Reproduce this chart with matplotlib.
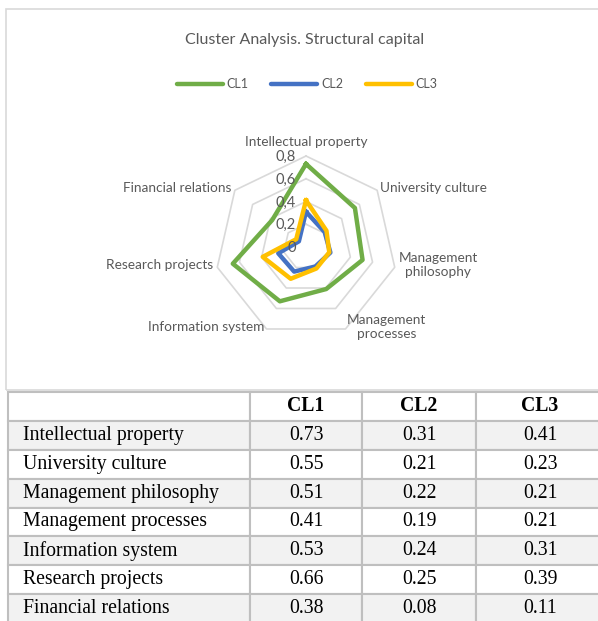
import numpy as np
import matplotlib.pyplot as plt
from matplotlib.lines import Line2D
from matplotlib.patches import Rectangle
from matplotlib.transforms import offset_copy

categories = ["Intellectual property", "University culture", "Management philosophy",
              "Management processes", "Information system", "Research projects",
              "Financial relations"]
axis_labels = ["Intellectual property", "University culture", "Management\nphilosophy",
               "Management\nprocesses", "Information system", "Research projects",
               "Financial relations"]
cl1 = [0.73, 0.55, 0.51, 0.41, 0.53, 0.66, 0.38]
cl2 = [0.31, 0.21, 0.22, 0.19, 0.24, 0.25, 0.08]
cl3 = [0.41, 0.23, 0.21, 0.21, 0.31, 0.39, 0.11]
series = ["CL1", "CL2", "CL3"]
colors = ["#70ad47", "#4472c4", "#ffc000"]
rings = [0.2, 0.4, 0.6, 0.8]
ring_labels = ["0", "0,2", "0,4", "0,6", "0,8"]

W, H = 598, 621
GRAY = "#595959"
plt.rcParams["font.family"] = ["Lato", "DejaVu Sans"]

fig = plt.figure(figsize=(W / 100, H / 100), dpi=100)

# chart area frame (behind everything)
fig.add_artist(Rectangle((6 / W, 1 - 390 / H), 600 / W, 381 / H, transform=fig.transFigure,
                         facecolor="none", edgecolor="#d9d9d9", linewidth=1.2, zorder=-5))

fig.text(305 / W, 1 - 40 / H, "Cluster Analysis. Structural capital", ha="center",
         va="center", fontsize=11.5, color=GRAY)

# radar
cx, cy, R = 306, 247, 91
ax = fig.add_axes([(cx - R) / W, 1 - (cy + R) / H, 2 * R / W, 2 * R / H], projection="polar")
ax.set_theta_zero_location("N")
ax.set_theta_direction(-1)
ax.set_ylim(0, 0.8)
ax.grid(False)
ax.spines["polar"].set_visible(False)
ax.set_xticks([])
ax.set_yticks([])
ax.patch.set_alpha(0)

n = len(categories)
ang = np.linspace(0, 2 * np.pi, n, endpoint=False)
ang_c = np.append(ang, ang[0])

for r in rings:
    ax.plot(ang_c, [r] * (n + 1), color="#d9d9d9", lw=1.2, clip_on=False, zorder=1)

for vals, c in zip([cl1, cl2, cl3], colors):
    ax.plot(ang_c, vals + vals[:1], color=c, lw=3.2, solid_joinstyle="round",
            clip_on=False, zorder=3)

for r, lab in zip([0] + rings, ring_labels):
    tr = offset_copy(ax.transData, fig=fig, x=-10, y=-1, units="dots")
    ax.text(0, r, lab, transform=tr, ha="right", va="center", fontsize=10.5, color=GRAY)

for a, lab in zip(ang, axis_labels):
    s, c = np.sin(a), np.cos(a)
    ha = "left" if s > 0.1 else ("right" if s < -0.1 else "center")
    va = "bottom" if c > 0.95 else "center"
    tr = offset_copy(ax.transData, fig=fig, x=4 * s, y=8 if va == "bottom" else 2,
                     units="dots")
    ax.text(a, 0.8, lab, transform=tr, ha=ha, va=va, fontsize=9.8, color=GRAY,
            multialignment="center")

handles = [Line2D([], [], color=c, lw=3.2, solid_capstyle="round") for c in colors]
fig.legend(handles, series, loc="center", bbox_to_anchor=(307 / W, 1 - 84 / H), ncol=3,
           frameon=False, fontsize=9, labelcolor=GRAY, handlelength=3.7,
           handletextpad=0.3, columnspacing=1.8)

# table
tx0, ty0, tx1, ty1 = 8, 392, 604, 623
tax = fig.add_axes([tx0 / W, 1 - ty1 / H, (tx1 - tx0) / W, (ty1 - ty0) / H])
tax.axis("off")
cell_text = [[cat, f"{a:.2f}", f"{b:.2f}", f"{c:.2f}"]
             for cat, a, b, c in zip(categories, cl1, cl2, cl3)]
col_w = np.array([242, 112, 114, 128], dtype=float)
tbl = tax.table(cellText=cell_text, colLabels=[""] + series, colWidths=list(col_w / col_w.sum()),
                bbox=[0, 0, 1, 1], cellLoc="center")
tbl.auto_set_font_size(False)
for (row, col), cell in tbl.get_celld().items():
    cell.set_edgecolor("#bfbfbf")
    cell.set_linewidth(1.5)
    txt = cell.get_text()
    txt.set_fontfamily("Liberation Serif")
    txt.set_fontsize(14.2)
    txt.set_color("black")
    if row == 0:
        txt.set_fontweight("bold")
        cell.set_facecolor("white")
    else:
        cell.set_facecolor("#f2f2f2" if row % 2 == 1 else "white")
    if col == 0:
        txt.set_ha("left")
        cell.PAD = 0.062

fig.savefig("out.png", dpi=100)
